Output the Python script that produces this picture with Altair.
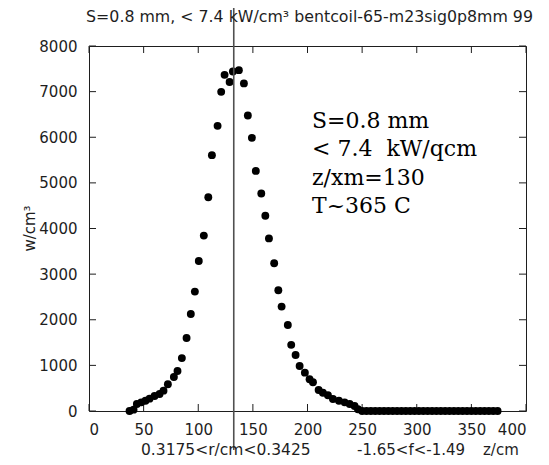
import altair as alt
import pandas as pd

# ---- data ----
z_peak = [37.1, 40.8, 43.8, 47.8, 51.7, 55.4, 60.0, 64.6, 68.2, 72.2, 77.7, 81.0,
          85.0, 89.3, 93.2, 96.9, 100.5, 105.1, 109.2, 112.5, 117.7, 121.0, 124.1,
          128.7, 131.7, 137.2, 141.8, 145.4, 149.1, 152.7, 157.7, 161.4, 164.7,
          169.5, 173.3, 176.3, 182.0, 185.1, 189.1, 192.8, 197.6, 201.9, 205.0,
          210.2, 214.1, 218.7, 223.3, 228.8, 234.0, 238.6, 243.1, 246.2]
w_peak = [0, 30, 153, 190, 226, 270, 329, 373, 446, 585, 746, 877,
          1160, 1600, 2127, 2617, 3289, 3845, 4686, 5607, 6250, 6995, 7368,
          7210, 7441, 7470, 7180, 6477, 5987, 5263, 4766, 4280, 3783,
          3238, 2646, 2288, 1886, 1450, 1228, 987, 840, 695, 629,
          460, 401, 344, 263, 226, 190, 153, 110, 37]
z_tail = [250, 254, 258, 262, 266, 270, 274, 278, 282, 286, 290, 294, 298, 302,
          306, 310, 314, 318, 322, 326, 330, 334, 338, 342, 346, 350, 354, 358,
          362, 366, 370, 374]
w_tail = [0, 0, 0, 0, 0, 0, 0, 0, 0, 0, 0, 0, 0, 0,
          0, 0, 0, 0, 0, 0, 0, 0, 0, 0, 0, 0, 0, 0,
          0, 0, 0, 0]

x_ticks = [0, 50, 100, 150, 200, 250, 300, 350, 400]
y_ticks = [0, 1000, 2000, 3000, 4000, 5000, 6000, 7000, 8000]
z_marker = [132.5]

title_text = "S=0.8 mm, < 7.4 kW/cm³ bentcoil-65-m23sig0p8mm 99"
y_title = "w/cm³"
bottom_texts = ["0.3175<r/cm<0.3425", "-1.65<f<-1.49", "z/cm"]
note_text = "S=0.8 mm\n< 7.4\u00a0 kW/qcm\nz/xm=130\nT~365 C"

W, H = 437, 365
INK = "#1e1e1e"
SANS = "DejaVu Sans"

df = pd.DataFrame({"z": z_peak + z_tail, "w": w_peak + w_tail})
xt = pd.DataFrame({"z": x_ticks})
yt = pd.DataFrame({"w": y_ticks})
vm = pd.DataFrame({"z": z_marker})

xscale = alt.Scale(domain=[0, 400], nice=False, zero=False)
yscale = alt.Scale(domain=[0, 8000], nice=False, zero=False)
xaxis = alt.Axis(values=x_ticks, ticks=False, tickSize=0, domain=False,
                 grid=False, labelFont=SANS, labelFontSize=15, format="d",
                 labelColor=INK, labelPadding=11, title=None)
yaxis = alt.Axis(values=y_ticks, ticks=False, tickSize=0, domain=False,
                 grid=False, labelFont=SANS, labelFontSize=15, format="d",
                 labelColor=INK, labelPadding=12, title=None)


def X():
    return alt.X("z:Q", scale=xscale, axis=xaxis)


def Y():
    return alt.Y("w:Q", scale=yscale, axis=yaxis)


points = alt.Chart(df).mark_point(filled=True, shape="circle", size=62,
                                  color="black", opacity=1).encode(x=X(), y=Y())

tick_len = 7
bottom_ticks = alt.Chart(xt).mark_rule(color=INK, strokeWidth=1).encode(
    x=X(), y=alt.value(H), y2=alt.value(H - tick_len))
top_ticks = alt.Chart(xt).mark_rule(color=INK, strokeWidth=1).encode(
    x=X(), y=alt.value(0), y2=alt.value(tick_len))
left_ticks = alt.Chart(yt).mark_rule(color=INK, strokeWidth=1).encode(
    y=Y(), x=alt.value(0), x2=alt.value(tick_len))
right_ticks = alt.Chart(yt).mark_rule(color=INK, strokeWidth=1).encode(
    y=Y(), x=alt.value(W), x2=alt.value(W - tick_len))

vline = alt.Chart(vm).mark_rule(color="#505050", strokeWidth=1.6).encode(
    x=X(), y=alt.value(-46), y2=alt.value(404))


def text_layer(txt, x, y, **kw):
    return alt.Chart(pd.DataFrame({"t": [txt]})).mark_text(**kw).encode(
        text="t:N", x=alt.value(x), y=alt.value(y))


title = text_layer(title_text, W / 2 + 2, -24, font=SANS, fontSize=15.8,
                   color=INK, align="center", baseline="alphabetic")
ytitle = text_layer(y_title, -59, H / 2, font=SANS, fontSize=15, color=INK,
                    align="center", baseline="middle", angle=270)
b1 = text_layer(bottom_texts[0], 52, 409, font=SANS, fontSize=15.5, color=INK,
                align="left", baseline="alphabetic")
b2 = text_layer(bottom_texts[1], 268, 409, font=SANS, fontSize=15, color=INK,
                align="left", baseline="alphabetic")
b3 = text_layer(bottom_texts[2], 394, 409, font=SANS, fontSize=15, color=INK,
                align="left", baseline="alphabetic")
note = text_layer(note_text, 223, 82, font="DejaVu Serif", fontSize=22,
                  color="black", align="left", baseline="alphabetic",
                  lineBreak="\n", lineHeight=28.3)

chart = alt.layer(
    bottom_ticks, top_ticks, left_ticks, right_ticks, points, vline,
    title, ytitle, b1, b2, b3, note
).properties(
    width=W, height=H,
    padding={"left": 81, "top": 38, "right": 15, "bottom": 56},
    autosize=alt.AutoSizeParams(type="none"),
).configure_view(stroke=INK, strokeWidth=1, fill="white")

chart.save("out.html", embed_options={"renderer": "svg", "actions": False})
